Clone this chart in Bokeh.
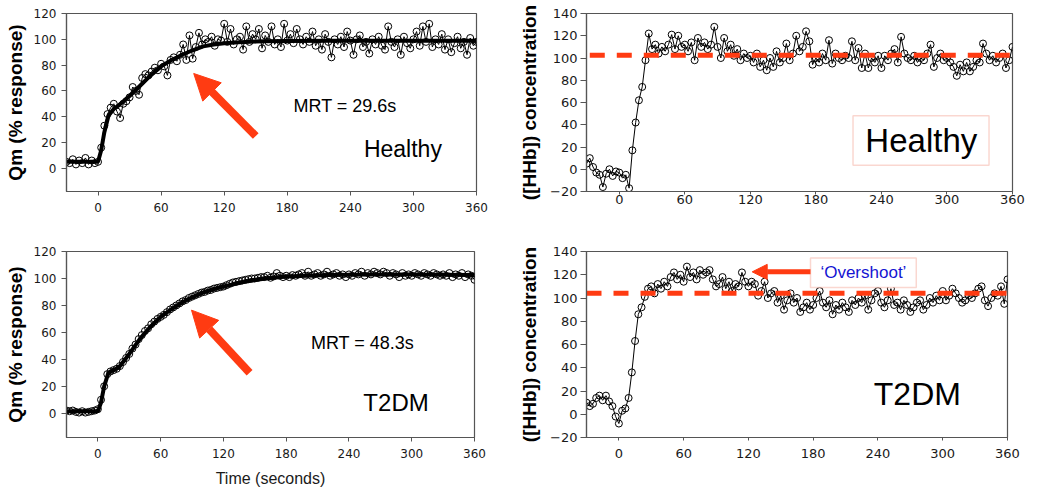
from bokeh.plotting import figure
from bokeh.models import Range1d, FixedTicker, Label, Arrow, NormalHead, BoxAnnotation
from bokeh.layouts import column, row
from bokeh.embed import file_html
from bokeh.resources import INLINE

# ---------------- data ----------------
time_s = list(range(-30, 361, 3))          # sampling grid (s)
x_ticks = [0, 60, 120, 180, 240, 300, 360]
qm_ticks = [0, 20, 40, 60, 80, 100, 120]
hhb_ticks = [-20, 0, 20, 40, 60, 80, 100, 120, 140]

qm_healthy = [
    5, 4, 7, 3, 6, 4, 8, 3, 6, 4,
    5, 16, 33, 42, 47, 50, 44, 39, 50, 52,
    55, 63, 60, 57, 70, 73, 72, 75, 78, 76,
    81, 79, 72, 84, 86, 83, 88, 96, 84, 103,
    85, 94, 105, 96, 100, 98, 102, 95, 100, 99,
    112, 98, 108, 96, 100, 102, 92, 110, 98, 104,
    100, 108, 93, 103, 98, 110, 96, 100, 94, 112,
    99, 104, 97, 108, 100, 96, 102, 98, 106, 95,
    100, 92, 104, 98, 86, 100, 96, 102, 94, 106,
    99, 88, 100, 103, 94, 98, 89, 100, 96, 102,
    95, 92, 110, 98, 94, 100, 88, 102, 97, 93,
    100, 106, 95, 110, 98, 112, 94, 100, 96, 104,
    92, 100, 90, 97, 102, 93, 98, 88, 101, 95,
    98]

hhb_healthy = [
    5, 10, 2, -3, -5, -16, -4, 0, -6, -2,
    -3, -8, -5, -17, 17, 42, 62, 74, 98, 122,
    108, 112, 104, 110, 106, 112, 121, 108, 120, 110,
    112, 106, 114, 98, 118, 110, 114, 108, 112, 128,
    110, 100, 118, 106, 112, 102, 108, 98, 104, 100,
    102, 96, 104, 92, 98, 89, 100, 92, 106, 96,
    100, 113, 98, 104, 120, 106, 110, 124, 115, 94,
    100, 96, 104, 98, 116, 95, 104, 100, 98, 102,
    100, 115, 98, 109, 91, 104, 91, 100, 96, 102,
    91, 102, 98, 104, 108, 96, 119, 104, 100, 98,
    102, 96, 100, 98, 104, 112, 92, 100, 104, 98,
    100, 96, 92, 84, 94, 88, 96, 88, 92, 98,
    96, 113, 104, 98, 102, 96, 100, 104, 91, 98,
    110]

qm_t2dm = [
    2, 1.5, 2, 1, 0.5, 1.5, 0.5, 1, 1.5, 2,
    3, 10, 20, 29, 31, 32, 33, 35, 38, 41,
    44, 48, 51, 55, 58, 61, 63, 66, 68, 70,
    71.5, 73, 75, 77, 78.5, 80, 81.5, 83, 84, 85.5,
    86.5, 87.5, 88.5, 89.5, 90, 91, 91.5, 92.5, 93, 93.5,
    94, 95, 96, 97, 97.5, 98, 98.5, 99, 99.5, 100,
    100, 100.5, 101, 101, 102, 100.5, 101.5, 104, 102, 101,
    102, 101, 102.5, 102, 103, 104, 102, 105, 102, 103,
    104, 102, 103, 105, 102, 103, 104, 102, 103, 101,
    103, 102, 104, 103, 105, 102, 104, 103, 105, 104,
    103, 105, 104, 102, 104, 103, 101, 104, 102, 103,
    102, 104, 103, 102, 104, 103, 102, 104, 103, 102,
    103, 102, 104, 101, 103, 102, 104, 101, 103, 102,
    99]

hhb_t2dm = [
    10, 7, 9, 14, 16, 12, 16, 11, 7, -2,
    -8, 3, 5, 14, 36, 63, 86, 92, 101, 108,
    110, 104, 112, 108, 114, 110, 118, 122, 116, 120,
    114, 127, 118, 122, 116, 124, 120, 122, 124, 116,
    110, 112, 118, 108, 114, 106, 112, 110, 122, 114,
    110, 114, 112, 102, 106, 114, 100, 104, 106, 96,
    102, 90, 98, 104, 96, 100, 88, 92, 96, 90,
    94, 100, 106, 96, 92, 98, 86, 94, 90, 96,
    92, 88, 98, 94, 100, 96, 102, 90, 98, 104,
    106, 96, 92, 98, 108, 94, 96, 90, 98, 94,
    88, 92, 96, 98, 90, 94, 100, 96, 102, 98,
    106, 98, 102, 108, 104, 100, 96, 98, 102, 100,
    104, 108, 110, 98, 93, 100, 104, 102, 110, 95,
    116]

# model fits (thick curves)
fit_t = [-30, 0, 3, 6, 10, 15, 20, 30, 40, 50, 60, 70, 80, 90, 100, 110, 120, 140, 160, 180, 220, 260, 300, 360]
fit_healthy = [5, 5, 14, 28, 41, 46, 49, 56, 64, 72, 79, 84, 88, 91.5, 94.5, 96, 97, 98, 98.5, 98.7, 98.8, 98.8, 98.8, 98.8]
fit_t2dm = [1.5, 1.5, 8, 20, 30, 32, 34, 44, 55, 64, 71.5, 77, 82, 86, 89.5, 92, 94, 97.5, 100, 101.5, 102.5, 103, 103, 102.5]

baseline_healthy = 102.5   # red dashed steady state
baseline_t2dm = 104

for arr in (qm_healthy, hhb_healthy, qm_t2dm, hhb_t2dm):
    assert len(arr) == len(time_s), len(arr)

# ---------------- styling ----------------
RED = "#ff3b12"
BOX = "#f07a62"
FRAME = "#555555"
FONT = "Liberation Sans"
TICKFONT = "DejaVu Sans"


def panel(width, height, y_lo, y_hi, y_ticks, mb, ylabel, tick_size,
          x_out, x_stand, y_out, y_stand, ylab_stand, xlabel=None):
    p = figure(width=width, height=height,
               x_range=Range1d(-30, 360), y_range=Range1d(y_lo, y_hi),
               output_backend="svg", toolbar_location=None,
               min_border_left=mb[0], min_border_right=mb[1],
               min_border_top=mb[2], min_border_bottom=mb[3])
    p.grid.visible = False
    p.outline_line_color = FRAME
    p.outline_line_width = 1.2
    p.background_fill_color = "white"
    p.border_fill_color = "white"
    p.xaxis.ticker = FixedTicker(ticks=x_ticks)
    p.yaxis.ticker = FixedTicker(ticks=y_ticks)
    for ax in p.axis:
        ax.axis_line_color = FRAME
        ax.axis_line_width = 1.2
        ax.major_tick_line_color = FRAME
        ax.major_tick_in = 0
        ax.minor_tick_out = 0
        ax.minor_tick_in = 0
        ax.major_label_text_font = TICKFONT
        ax.major_label_text_font_size = tick_size
        ax.major_label_text_color = "#1a1a1a"
    p.xaxis.major_tick_out = x_out
    p.xaxis.major_label_standoff = x_stand
    p.yaxis.major_tick_out = y_out
    p.yaxis.major_label_standoff = y_stand
    p.yaxis.axis_label = ylabel
    p.yaxis.axis_label_text_font = FONT
    p.yaxis.axis_label_text_font_size = "19px"
    p.yaxis.axis_label_text_font_style = "bold"
    p.yaxis.axis_label_text_color = "black"
    p.yaxis.axis_label_standoff = ylab_stand
    if xlabel:
        p.xaxis.axis_label = xlabel
        p.xaxis.axis_label_text_font = FONT
        p.xaxis.axis_label_text_font_size = "16px"
        p.xaxis.axis_label_text_font_style = "normal"
        p.xaxis.axis_label_text_color = "#1a1a1a"
        p.xaxis.axis_label_standoff = 9
    return p


def draw_data(p, y, fit=None):
    p.line(time_s, y, line_color="black", line_width=1)
    p.scatter(time_s, y, marker="circle", size=7, fill_color=None,
              line_color="black", line_width=1)
    if fit is not None:
        p.line(fit_t, fit, line_color="black", line_width=4)


def label(p, x, y, text, size, color="black"):
    p.add_layout(Label(x=x, y=y, text=text, text_font=FONT, text_font_size=size,
                       text_color=color, text_align="center", text_baseline="middle"))


# ---- top-left: Qm healthy
p1 = panel(490, 244, -18, 120, qm_ticks, (66, 14, 7, 53), "Qm (% response)",
           "12px", 4, 7, 5, 5, 5)
draw_data(p1, qm_healthy, fit_healthy)
p1.add_layout(Arrow(end=NormalHead(size=26, fill_color=RED, line_color=RED, line_width=1),
                    x_start=150, y_start=25, x_end=91, y_end=73.5,
                    line_color=RED, line_width=8))
label(p1, 235, 48, "MRT = 29.6s", "18px")
label(p1, 290, 15, "Healthy", "23px")

# ---- top-right: HHb healthy
p2 = panel(560, 244, -20, 140, hhb_ticks, (96, 38, 13, 40), "([HHb]) concentration",
           "13px", 3, 0, 6, 3, 7)
draw_data(p2, hhb_healthy)
p2.line([-27, 360], [baseline_healthy, baseline_healthy], line_color=RED,
        line_width=5, line_dash="15 12")
p2.add_layout(BoxAnnotation(left=214, right=338.5, bottom=3.6, top=48,
                            fill_color="white", fill_alpha=1,
                            line_color=BOX, line_width=1.5))
label(p2, 276.5, 26, "Healthy", "33px")

# ---- bottom-left: Qm T2DM
p3 = panel(490, 246, -18, 120, qm_ticks, (66, 16, 7, 53), "Qm (% response)",
           "12px", 4, 7, 5, 5, 5, "Time (seconds)")
draw_data(p3, qm_t2dm, fit_t2dm)
p3.add_layout(Arrow(end=NormalHead(size=26, fill_color=RED, line_color=RED, line_width=1),
                    x_start=145, y_start=30, x_end=89.5, y_end=76.5,
                    line_color=RED, line_width=8))
label(p3, 253, 52, "MRT = 48.3s", "18px")
label(p3, 285, 8, "T2DM", "24px")

# ---- bottom-right: HHb T2DM
p4 = panel(560, 246, -20, 140, hhb_ticks, (96, 43, 7, 49), "([HHb]) concentration",
           "13px", 3, 8, 6, 3, 7)
draw_data(p4, hhb_t2dm)
p4.line([-30, 360], [baseline_t2dm, baseline_t2dm], line_color=RED,
        line_width=5, line_dash="15 12")
p4.add_layout(BoxAnnotation(left=177.5, right=275.5, bottom=109, top=134.5,
                            fill_color="white", fill_alpha=1,
                            line_color=BOX, line_width=1.5))
p4.add_layout(Arrow(end=NormalHead(size=15, fill_color=RED, line_color=RED, line_width=1),
                    x_start=177.5, y_start=122.5, x_end=123.5, y_end=122.5,
                    line_color=RED, line_width=5))
label(p4, 226.5, 122, "\u2018Overshoot\u2019", "17px", "#1414d2")
label(p4, 276.5, 17.5, "T2DM", "32px")

layout = column(row(p1, p2), row(p3, p4))
open("out.html", "w").write(file_html(layout, INLINE))
